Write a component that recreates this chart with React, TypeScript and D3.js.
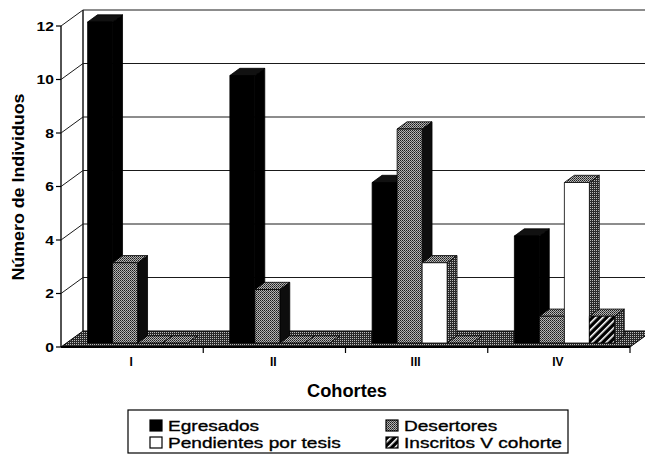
import { useEffect, useRef } from "react";
import * as d3 from "d3";

const W = 645;
const H = 454;

const cohortes = ["I", "II", "III", "IV"];
const series = ["Egresados", "Desertores", "Pendientes por tesis", "Inscritos V cohorte"];
const egresados = [12, 10, 6, 4];
const desertores = [3, 2, 8, 1];
const pendientes = [0, 0, 3, 6];
const inscritos = [0, 0, 0, 1];
const yTicks = [0, 2, 4, 6, 8, 10, 12];

const FONT = "'Liberation Sans', Arial, Helvetica, sans-serif";

// 3d box geometry
const DX = 22;
const DY = 16;
const F0 = 0.25; // bar front depth
const F1 = 0.7; // bar back depth

// face fills per series: front, side, top
const faces = [
  { front: "#000", side: "#000", top: "#111" },
  { front: "url(#dots)", side: "#0d0d0d", top: "url(#dots)" },
  { front: "#fff", side: "url(#darkDots)", top: "url(#dots)" },
  { front: "url(#hatch)", side: "url(#darkDots)", top: "url(#dots)" },
];

const App = () => {
  const ref = useRef<SVGSVGElement>(null);

  useEffect(() => {
    const svg = d3.select(ref.current);
    svg.selectAll("*").remove();

    const values = [egresados, desertores, pendientes, inscritos];

    const y = d3.scaleLinear().domain([0, 12]).range([347, 26]);
    const x0 = d3.scaleBand().domain(cohortes).range([61, 630]);
    const x1 = d3
      .scaleBand()
      .domain(series)
      .range([0, x0.bandwidth()])
      .paddingInner(0)
      .paddingOuter(0.845);

    const P = (x: number, v: number, f: number) => [x + f * DX, y(v) - f * DY];
    const poly = (pts: number[][]) => pts.map((p) => p.join(",")).join(" ");

    // patterns
    const defs = svg.append("defs");
    const dots = defs
      .append("pattern")
      .attr("id", "dots")
      .attr("width", 2)
      .attr("height", 2)
      .attr("patternUnits", "userSpaceOnUse");
    dots.append("rect").attr("width", 2).attr("height", 2).attr("fill", "#b4b4b4");
    dots.append("rect").attr("width", 1).attr("height", 1).attr("fill", "#1a1a1a");
    dots.append("rect").attr("x", 1).attr("y", 1).attr("width", 1).attr("height", 1).attr("fill", "#444");

    const dark = defs
      .append("pattern")
      .attr("id", "darkDots")
      .attr("width", 2)
      .attr("height", 2)
      .attr("patternUnits", "userSpaceOnUse");
    dark.append("rect").attr("width", 2).attr("height", 2).attr("fill", "#2a2a2a");
    dark.append("rect").attr("width", 1).attr("height", 1).attr("fill", "#bbb");

    const hatch = defs
      .append("pattern")
      .attr("id", "hatch")
      .attr("width", 5)
      .attr("height", 5)
      .attr("patternUnits", "userSpaceOnUse")
      .attr("patternTransform", "rotate(45)");
    hatch.append("rect").attr("width", 5).attr("height", 5).attr("fill", "#000");
    hatch.append("rect").attr("width", 1.6).attr("height", 5).attr("fill", "#fff");

    svg.append("rect").attr("width", W).attr("height", H).attr("fill", "#fff");

    const [xl, xr] = x0.range();

    // walls + gridlines
    const grid = svg.append("g").attr("stroke", "#1a1a1a").attr("stroke-width", 1).attr("fill", "none");
    yTicks.forEach((t) => {
      if (t === 0) return;
      const a = P(xl, t, 0);
      const b = P(xl, t, 1);
      const c = P(xr + 30, t, 1);
      grid.append("polyline").attr("points", poly([a, b, c]));
    });
    grid.append("line").attr("x1", xl).attr("y1", y(0)).attr("x2", xl).attr("y2", y(12)).attr("stroke-width", 1.5);
    const bl0 = P(xl, 0, 1);
    const bl1 = P(xl, 12, 1);
    grid.append("line").attr("x1", bl0[0]).attr("y1", bl0[1]).attr("x2", bl1[0]).attr("y2", bl1[1]).attr("stroke-width", 1.5);

    // floor
    svg
      .append("polygon")
      .attr("points", poly([P(xl, 0, 0), P(xr, 0, 0), P(xr, 0, 1), P(xl, 0, 1)]))
      .attr("fill", "url(#darkDots)")
      .attr("stroke", "#000")
      .attr("stroke-width", 1);
    svg
      .append("line")
      .attr("x1", xl)
      .attr("x2", xr)
      .attr("y1", y(0))
      .attr("y2", y(0))
      .attr("stroke", "#000")
      .attr("stroke-width", 2);

    // bars, left to right
    const bars = svg.append("g").attr("stroke", "#000").attr("stroke-width", 0.8).attr("stroke-linejoin", "round");
    cohortes.forEach((c, ci) => {
      series.forEach((s, si) => {
        const v = values[si][ci];
        const xa = (x0(c) as number) + (x1(s) as number);
        const xb = xa + x1.bandwidth();
        const f = faces[si];
        if (v > 0) {
          bars
            .append("polygon")
            .attr("points", poly([P(xb, 0, F0), P(xb, v, F0), P(xb, v, F1), P(xb, 0, F1)]))
            .attr("fill", f.side);
        }
        bars
          .append("polygon")
          .attr("points", poly([P(xa, v, F0), P(xb, v, F0), P(xb, v, F1), P(xa, v, F1)]))
          .attr("fill", f.top);
        if (v > 0) {
          const p = P(xa, v, F0);
          bars
            .append("rect")
            .attr("x", p[0])
            .attr("y", p[1])
            .attr("width", x1.bandwidth())
            .attr("height", y(0) - y(v))
            .attr("fill", f.front);
        }
      });
    });

    // y axis ticks and labels
    const yAxis = svg.append("g").attr("font-family", FONT).attr("font-weight", "bold").attr("font-size", 12);
    yTicks.forEach((t) => {
      yAxis.append("line").attr("x1", xl - 5).attr("x2", xl).attr("y1", y(t)).attr("y2", y(t)).attr("stroke", "#000").attr("stroke-width", 1.2);
      yAxis
        .append("text")
        .attr("class", "stretch")
        .attr("x", xl - 7)
        .attr("y", y(t) + 4.5)
        .attr("text-anchor", "end")
        .text(String(t));
    });

    // x axis ticks and labels
    const xAxis = svg.append("g").attr("font-family", FONT).attr("font-weight", "bold").attr("font-size", 12);
    d3.range(cohortes.length + 1).forEach((i) => {
      const xx = xl + i * x0.step();
      if (i === 0) return;
      xAxis.append("line").attr("x1", xx).attr("x2", xx).attr("y1", y(0)).attr("y2", y(0) + 6).attr("stroke", "#000").attr("stroke-width", 1.2);
    });
    cohortes.forEach((c) => {
      xAxis
        .append("text")
        .attr("x", (x0(c) as number) + x0.bandwidth() / 2 - 1)
        .attr("y", 366)
        .attr("text-anchor", "middle")
        .text(c);
    });

    // titles
    svg
      .append("text")
      .attr("x", 347)
      .attr("y", 397)
      .attr("text-anchor", "middle")
      .attr("font-family", FONT)
      .attr("font-weight", "bold")
      .attr("font-size", 18)
      .attr("textLength", 80)
      .attr("lengthAdjust", "spacingAndGlyphs")
      .text("Cohortes");
    svg
      .append("text")
      .attr("transform", "translate(24,187) rotate(-90)")
      .attr("text-anchor", "middle")
      .attr("font-family", FONT)
      .attr("font-weight", "bold")
      .attr("font-size", 16)
      .attr("textLength", 187)
      .attr("lengthAdjust", "spacingAndGlyphs")
      .text("Número de Individuos");

    // legend
    const lg = svg.append("g").attr("font-family", FONT).attr("font-size", 15.5);
    lg.append("rect").attr("x", 128).attr("y", 410).attr("width", 440).attr("height", 43).attr("fill", "#fff").attr("stroke", "#000").attr("stroke-width", 1.2);
    const colX = [150, 386];
    const rowY = [420, 437];
    series.forEach((s, i) => {
      const cx = colX[i % 2];
      const ry = rowY[Math.floor(i / 2)];
      lg.append("rect").attr("x", cx).attr("y", ry).attr("width", 12).attr("height", 11).attr("fill", faces[i].front).attr("stroke", "#000").attr("stroke-width", 1.2);
      lg.append("text")
        .attr("class", "stretch-lg")
        .attr("x", cx + 18)
        .attr("y", ry + 11)
        .attr("stroke", "#000")
        .attr("stroke-width", 0.35)
        .text(s);
    });

    // horizontal stretch of the scanned lettering
    const stretch = (sel: string, k: number) => {
      svg.selectAll<SVGTextElement, unknown>(sel).each(function () {
        const len = this.getComputedTextLength();
        d3.select(this).attr("textLength", len * k).attr("lengthAdjust", "spacingAndGlyphs");
      });
    };
    stretch("text.stretch", 1.3);
    stretch("text.stretch-lg", 1.23);
  }, []);

  return (
    <svg
      ref={ref}
      width={W}
      height={H}
      style={{ position: "absolute", left: 0, top: 0, display: "block" }}
    />
  );
};

export default App;
